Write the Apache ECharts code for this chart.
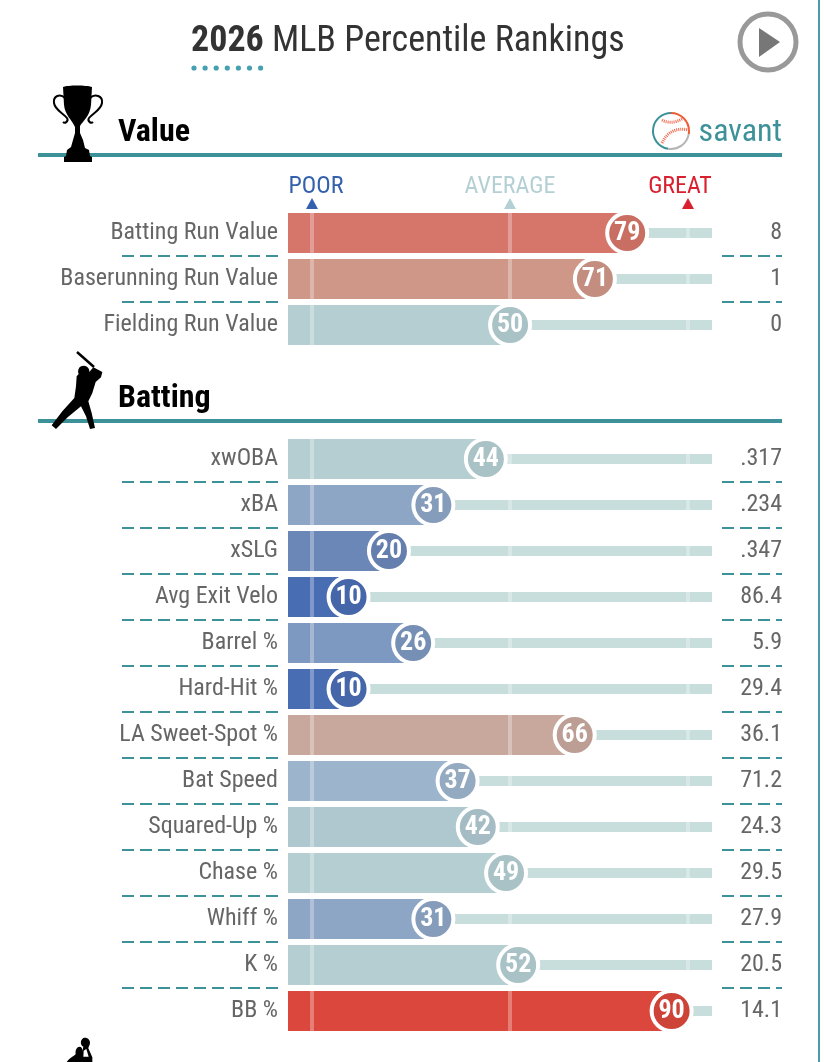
<!DOCTYPE html>
<html>
<head>
<meta charset="utf-8">
<style>html,body{margin:0;padding:0;background:#fff}#chart{width:824px;height:1062px}</style>
<script src="https://cdn.jsdelivr.net/npm/echarts@6/dist/echarts.min.js"></script>
</head>
<body>
<div id="chart"></div>
<script>
// Percentile metrics, one set of arrays per section
const valueCategories = ['Batting Run Value', 'Baserunning Run Value', 'Fielding Run Value'];
const valuePercentiles = [79, 71, 50];
const valueStats = ['8', '1', '0'];

const battingCategories = ['xwOBA', 'xBA', 'xSLG', 'Avg Exit Velo', 'Barrel %', 'Hard-Hit %', 'LA Sweet-Spot %', 'Bat Speed', 'Squared-Up %', 'Chase %', 'Whiff %', 'K %', 'BB %'];
const battingPercentiles = [44, 31, 20, 10, 26, 10, 66, 37, 42, 49, 31, 52, 90];
const battingStats = ['.317', '.234', '.347', '86.4', '5.9', '29.4', '36.1', '71.2', '24.3', '29.5', '27.9', '20.5', '14.1'];

const referenceTicks = [1, 50, 94];
const legendLabels = ['POOR', 'AVERAGE', 'GREAT'];

// Colour ramp from poor to great
const rampStops = [
  [10, [73, 109, 179]], [20, [106, 135, 184]], [26, [125, 153, 193]], [31, [141, 166, 198]],
  [37, [156, 181, 204]], [42, [175, 200, 208]], [44, [180, 206, 210]], [52, [180, 206, 210]],
  [66, [200, 168, 157]], [71, [207, 151, 135]], [79, [214, 117, 105]], [90, [219, 71, 60]]
];
function rampColor(p, k) {
  let i = 0;
  while (i < rampStops.length - 2 && p > rampStops[i + 1][0]) i++;
  const [p0, c0] = rampStops[i], [p1, c1] = rampStops[i + 1];
  const t = Math.max(0, Math.min(1, (p - p0) / (p1 - p0)));
  const c = c0.map((v, j) => Math.round((v + (c1[j] - v) * t) * (k || 1)));
  return `rgb(${c.join(',')})`;
}

const FONT = '"Roboto Condensed", "Liberation Sans Narrow", Roboto, sans-serif';
const TEAL = '#3d9299';
const ROW = 46;
const AXIS_MIN = -5, AXIS_MAX = 100;

const sections = [
  { top: 210, categories: valueCategories, percentiles: valuePercentiles, stats: valueStats },
  { top: 436, categories: battingCategories, percentiles: battingPercentiles, stats: battingStats }
];

const grids = [], xAxes = [], yAxes = [], series = [];
sections.forEach((s, i) => {
  grids.push({ left: 288, width: 424, top: s.top, height: s.categories.length * ROW });
  xAxes.push({ gridIndex: i, type: 'value', min: AXIS_MIN, max: AXIS_MAX, show: false });
  yAxes.push({
    gridIndex: i, type: 'category', inverse: true, data: s.categories,
    axisLine: { show: false }, axisTick: { show: false },
    axisLabel: { margin: 10, color: '#666', fontFamily: FONT, fontSize: 24, verticalAlign: 'middle' }
  });
  yAxes.push({
    gridIndex: i, type: 'category', inverse: true, position: 'right', data: s.stats,
    axisLine: { show: false }, axisTick: { show: false },
    axisLabel: { margin: 70, align: 'right', color: '#666', fontFamily: FONT, fontSize: 24, verticalAlign: 'middle' }
  });
  const yIndex = i * 2;
  // Thin track running the whole scale
  series.push({
    type: 'bar', xAxisIndex: i, yAxisIndex: yIndex, silent: true, animation: false, z: 1,
    barWidth: 10, itemStyle: { color: '#c8dedc' },
    data: s.percentiles.map(() => AXIS_MAX)
  });
  // Filled bars start at the left edge of the plot, ahead of zero
  series.push({
    type: 'custom', xAxisIndex: i, yAxisIndex: yIndex, silent: true, animation: false, z: 2,
    data: s.percentiles.map((p, r) => [p, r]),
    encode: { x: 0, y: 1 },
    renderItem(params, api) {
      const start = api.coord([AXIS_MIN, api.value(1)]);
      const end = api.coord([api.value(0), api.value(1)]);
      return {
        type: 'rect',
        shape: { x: start[0], y: start[1] - 20, width: end[0] - start[0], height: 40 },
        style: { fill: rampColor(api.value(0)) }
      };
    },
    markLine: {
      silent: true, symbol: 'none', animation: false, z: 3, label: { show: false },
      lineStyle: { color: 'rgba(255,255,255,0.3)', width: 4, type: 'solid' },
      data: referenceTicks.map(t => ({ xAxis: t }))
    }
  });
  // Percentile badges
  series.push({
    type: 'scatter', xAxisIndex: i, yAxisIndex: yIndex, silent: true, animation: false, z: 5,
    symbolSize: 40,
    data: s.percentiles.map((p, r) => ({
      value: [p, r],
      itemStyle: { color: rampColor(p, 0.94), borderColor: '#fff', borderWidth: 4, opacity: 1 }
    })),
    label: {
      show: true, position: 'inside', color: '#fff', fontFamily: FONT, fontWeight: 'bold', fontSize: 26,
      formatter: d => d.value[0]
    }
  });
});

// Decorations around the plot
const graphics = [];
function dash(x1, x2, y) {
  graphics.push({ type: 'line', silent: true, shape: { x1, y1: y, x2, y2: y }, style: { stroke: TEAL, lineWidth: 2, lineDash: [12, 6] } });
}
sections.forEach(s => {
  for (let r = 1; r < s.categories.length; r++) {
    const y = s.top + r * ROW;
    dash(122, 278, y);
    dash(722, 782, y);
  }
});
function rule(y) {
  graphics.push({ type: 'rect', silent: true, shape: { x: 38, y, width: 744, height: 4 }, style: { fill: TEAL } });
}
rule(153); rule(419);

// Side border
graphics.push({ type: 'rect', silent: true, shape: { x: 818, y: 0, width: 2, height: 1062 }, style: { fill: '#4a9aab' } });

// Title underline dots
for (let d = 0; d < 7; d++) {
  graphics.push({ type: 'circle', silent: true, shape: { cx: 194 + d * 11.1, cy: 68, r: 2.6 }, style: { fill: '#45a0b0' } });
}

// Section headings and wordmark
graphics.push(
  { type: 'text', silent: true, x: 118, y: 133, style: { text: 'Value', font: `bold 32px ${FONT}`, fill: '#000', textVerticalAlign: 'middle' } },
  { type: 'text', silent: true, x: 118, y: 399, style: { text: 'Batting', font: `bold 32px ${FONT}`, fill: '#000', textVerticalAlign: 'middle' } },
  { type: 'text', silent: true, x: 782, y: 133, style: { text: 'savant', font: `32px ${FONT}`, fill: TEAL, textAlign: 'right', textVerticalAlign: 'middle' } }
);

// Scale legend
const legendColors = ['#3461ae', '#b4d0d4', '#d9202f'];
const legendTextX = [316, 510, 680];
const legendMarkX = [312, 510, 688];
legendLabels.forEach((t, i) => {
  graphics.push({ type: 'text', silent: true, x: legendTextX[i], y: 187, style: { text: t, font: `24px ${FONT}`, fill: legendColors[i], textAlign: 'center', textVerticalAlign: 'middle' } });
  graphics.push({ type: 'polygon', silent: true, shape: { points: [[legendMarkX[i] - 6, 209], [legendMarkX[i] + 6, 209], [legendMarkX[i], 198]] }, style: { fill: legendColors[i] } });
});

// Play button
graphics.push(
  { type: 'circle', silent: true, shape: { cx: 768, cy: 42, r: 28 }, style: { fill: 'none', stroke: '#999', lineWidth: 5 } },
  { type: 'polygon', silent: true, shape: { points: [[759, 28], [759, 57], [780, 42]] }, style: { fill: '#777' } }
);

// Baseball mark
[[-Math.PI / 2, Math.PI / 18, '#ef5a33'], [Math.PI / 18, Math.PI * 0.55, '#b5b5b5'], [Math.PI * 0.55, Math.PI * 1.5, TEAL]].forEach(a => {
  graphics.push({ type: 'arc', silent: true, shape: { cx: 671, cy: 131, r: 18, startAngle: a[0], endAngle: a[1] }, style: { fill: 'none', stroke: a[2], lineWidth: 2 } });
});

// Free-form outlines are registered as named shapes
let shapeCount = 0;
function addPath(d, props) {
  const name = 'outline' + (shapeCount++);
  echarts.graphic.registerShape(name, echarts.graphic.extendPath(d));
  graphics.push(Object.assign({ type: name, silent: true }, props));
}
['M662 120Q671 125 682 119', 'M662 143Q670 126 689 130'].forEach(d => {
  addPath(d, { style: { fill: 'none', stroke: '#f0674a', lineWidth: 3, lineDash: [1, 1] } });
});

// Silhouettes
const trophy = 'M63 87C68 85 86 85 92 87L91 105C90 116 83 121 80 126L80 133L83 140L85 148L89 150L90 156L92 157L92 162L64 162L64 157L66 156L67 150L71 147L73 140L75 133L75 127C72 120 65 115 64 105Z';
addPath(trophy, { z: 10, style: { fill: '#000' } });
['M65 98C60 93 53 96 54 103C55 110 63 113 67 118C69 121 65 124 63 122', 'M90 98C95 93 103 96 102 103C101 110 93 113 89 118C87 121 91 124 93 122'].forEach(d => {
  addPath(d, { z: 10, style: { fill: 'none', stroke: '#000', lineWidth: 2 } });
});
const batter = 'M145 58L172 72L168 88L152 102L142 135L130 160L140 195L150 240L135 243L123 205L108 175L68 208L33 243L20 232L52 190L88 150L93 115L95 85L101 78A17 17 0 1 1 133 72L145 58Z';
addPath(batter, { z: 10, x: 45, y: 348, scaleX: 1 / 3, scaleY: 1 / 3, style: { fill: '#000' } });
graphics.push({ type: 'line', silent: true, z: 10, shape: { x1: 77, y1: 352, x2: 94, y2: 367 }, style: { stroke: '#000', lineWidth: 2.5 } });
const pitcher = 'M35 96C45 82 58 78 62 72C60 60 66 50 74 50C80 50 82 55 82 62L85 50C75 45 75 30 85 24C95 20 105 28 105 38C105 45 100 50 100 55L112 82L112 96Z';
addPath(pitcher, { z: 10, x: 55, y: 1030, scaleX: 1 / 3, scaleY: 1 / 3, style: { fill: '#000' } });
addPath('M86 62L85 80L101 80L94 57Z', { z: 11, x: 55, y: 1030, scaleX: 1 / 3, scaleY: 1 / 3, style: { fill: '#fff' } });

const chart = echarts.init(document.getElementById('chart'), null, { renderer: 'canvas' });
chart.setOption({
  animation: false,
  backgroundColor: '#fff',
  title: {
    left: 186, top: 19,
    text: '{b|2026} MLB Percentile Rankings',
    textStyle: {
      color: '#333', fontFamily: FONT, fontSize: 36, fontWeight: 'normal',
      rich: { b: { color: '#333', fontFamily: FONT, fontSize: 36, fontWeight: 'bold' } }
    }
  },
  grid: grids, xAxis: xAxes, yAxis: yAxes, series,
  graphic: { elements: graphics }
});
</script>
</body>
</html>
